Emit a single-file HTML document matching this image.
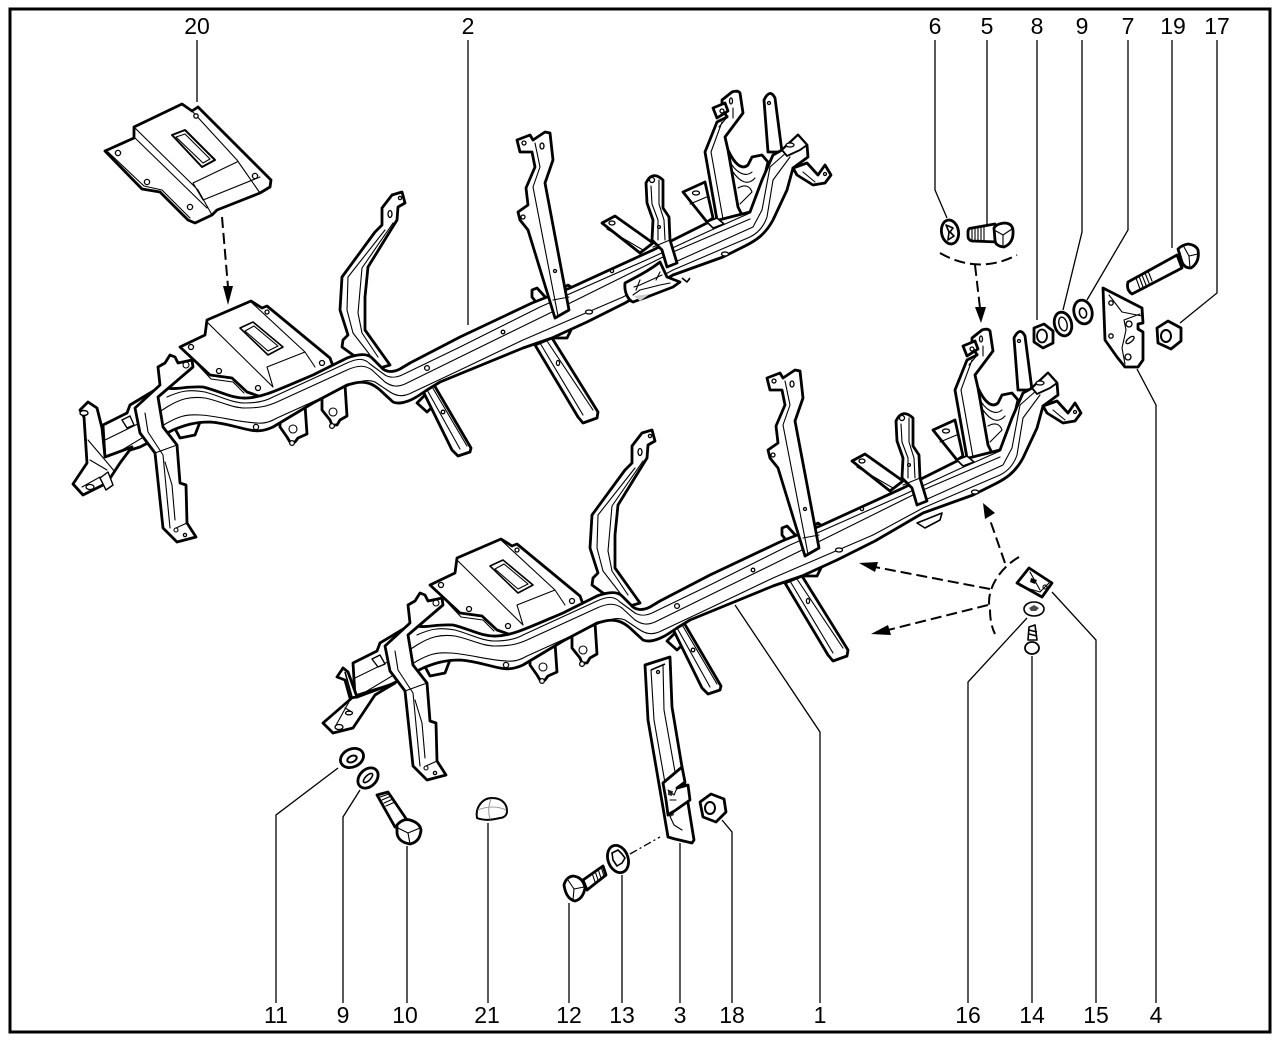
<!DOCTYPE html>
<html><head><meta charset="utf-8"><title>Diagram</title>
<style>
html,body{margin:0;padding:0;background:#fff}
svg{display:block}
text{font-family:"Liberation Sans",Arial,sans-serif;font-size:23px;fill:#000;text-anchor:middle}
.o{fill:#fff;stroke:#000;stroke-width:2.8;stroke-linejoin:round;stroke-linecap:round}
.i{fill:none;stroke:#000;stroke-width:1.1;stroke-linejoin:round;stroke-linecap:round}
.l{fill:none;stroke:#000;stroke-width:1.3}
.d{fill:none;stroke:#000;stroke-width:2;stroke-dasharray:11 5}
.h{fill:#fff;stroke:#000;stroke-width:1.3}
.m{fill:none;stroke:#000;stroke-width:1.6;stroke-linejoin:round}
</style></head><body>
<svg width="1280" height="1041" viewBox="0 0 1280 1041" xmlns="http://www.w3.org/2000/svg">
<rect width="1280" height="1041" fill="#fff"/>
<rect x="10" y="9" width="1260" height="1023" fill="none" stroke="#000" stroke-width="3"/>

<defs>
<g id="frame">
  <!-- far right clutter -->
  <path class="o" d="M728 150C735 165 742 170 748 165L752 157L762 155L768 162L756 212L738 215Z"/>
  <path class="i" d="M729 160C735 172 745 178 752 172M733 172C740 182 748 186 755 178M738 188C745 184 750 186 752 192M740 204L752 192"/>
  <path class="o" d="M764 100Q770 88 775 98L782 152L768 152Z"/>
  <circle class="h" cx="769" cy="103" r="1.5"/>
  <!-- big right bracket -->
  <path class="o" d="M722 100L732 92Q738 90 740 93L743 113L725 137L728 150L738 207L742 215L723 223L717 220L705 152L717 122L727 117L722 108Z"/>
  <path class="i" d="M722 122L711 152L723 219M733 108L733 118M728 116L719 127"/>
  <ellipse class="h" cx="731" cy="101" rx="1.5" ry="3"/>
  <path class="o" d="M713 108L725 103L728 111L717 118Z"/>
  <circle class="h" cx="722" cy="111" r="2"/>
  <!-- tab -->
  <path class="o" d="M683 192L705 182L713 218L707 222Z"/>
  <path class="i" d="M690 204L709 196"/>
  <ellipse class="h" cx="696" cy="193" rx="3.5" ry="2"/>
  <!-- strap -->
  <path class="o" d="M602 223L615 216L653 243L640 253Z"/>
  <path class="i" d="M607 229L643 250"/>
  <ellipse class="h" cx="612" cy="223" rx="3" ry="2"/>
  <!-- hoop -->
  <path class="o" d="M402 192L405 203L398 207L397 220L368 267L365 297L365 330L390 365L380 368L353 355L342 347L343 340L348 335L340 310L342 277L375 232L382 225L382 208L392 195Z"/>
  <path class="i" d="M393 223L362 268L358 313L362 333L378 357M385 230L348 277L347 310L353 333L370 355"/>
  <ellipse class="h" cx="390" cy="214" rx="2" ry="3.5"/>
  <circle class="h" cx="400" cy="198" r="1.6"/>
  <!-- center bracket foot rear -->
  <path class="o" d="M568 285L575 290L565 298L560 290Z"/>
  <path class="o" d="M532 290L537 288L548 300L540 307L532 297Z"/>
  <!-- plate -->
  <path class="o" d="M180 347L205 335L207 320L251 301L262 308L267 306L330 358L340 385L270 400L247 392L232 378L210 375Z"/>
  <path class="i" d="M207 322L273 387M251 302L305 352L315 367M267 367L305 352M267 367L273 387M184 350L211 379L233 382L244 393"/>
  <path class="o" d="M240 328L253 322L283 347L268 355Z" style="stroke-width:1.6"/>
  <path class="i" d="M245 331L254 326L278 346L268 351Z"/>
  <circle class="h" cx="191" cy="347" r="2.5"/><circle class="h" cx="219" cy="371" r="2.5"/>
  <circle class="h" cx="258" cy="388" r="2.5"/><circle class="h" cx="322" cy="363" r="2.5"/><circle class="h" cx="267" cy="312" r="2"/>
  <!-- under brackets -->
  <path class="o" d="M280 415L280 427L287 437L290 442L295 442L298 438L307 434L305 405L288 410Z"/>
  <circle class="h" cx="292" cy="443" r="2.4"/><circle class="i" cx="293" cy="429" r="4"/>
  <path class="o" d="M322 395L322 410L330 420L332 425L337 425L340 420L347 416L345 385L330 390Z"/>
  <circle class="h" cx="332" cy="426" r="2.4"/><circle class="i" cx="333" cy="412" r="4"/>
  <path class="o" d="M173 425L190 420L200 422L195 435L180 438Z"/>
  <!-- rear triangle & legs -->
  <path class="o" d="M552 338L567 338L573 326L555 330Z"/>
  <path class="o" d="M535 345L552 338L598 412L597 418L583 423L578 417Z"/>
  <path class="i" d="M540 343L583 415M547 341L593 410"/>
  <ellipse class="h" cx="558" cy="363" rx="1.6" ry="2.5"/>
  <path class="o" d="M417 403L430 390L440 400L427 412Z"/>
  <path class="o" d="M420 385L430 378L471 448L470 452L458 456L452 450Z"/>
  <path class="i" d="M426 388L460 449M431 385L467 446"/>
  <circle class="h" cx="443" cy="412" r="1.8"/>
  <!-- beam -->
  <path class="o" d="M103 425L127 413L130 405L160 387C175 391 183 386 203 387C220 391 232 399 247 398C263 397 273 392 313 375L347 358C358 354 367 353 372 358L381 367C385 372 392 373 400 369L410 363L460 337L532 303L570 288L653 250L707 223L750 212L762 180L773 155L782 150L798 135L807 145L808 157L793 168L787 190L773 220C765 235 755 241 745 246L723 257L673 275L625 303L587 322L552 338L523 348L440 382L427 390L418 396C410 401 400 405 393 402L380 390C372 383 365 381 355 383L347 385L313 403L273 427C262 432 255 431 250 430C235 427 225 423 210 422C195 422 185 425 173 430L140 447L105 458Z"/>
  <path class="i" d="M103 441L150 418L167 407C180 399 190 396 205 398C220 401 232 408 245 408C260 408 268 406 277 402L347 370C358 365 365 365 372 370L385 382C392 387 398 387 405 384L460 357L550 313L673 252L750 219M167 397C180 391 190 389 205 392C220 396 232 403 245 403C258 403 266 401 273 397L347 363C358 358 364 358 370 364L385 375C390 378 395 378 402 375L460 347L540 307L653 257L707 232L750 213M112 456L167 423C178 417 185 414 200 415C220 416 235 422 257 423C265 424 272 421 277 418L350 385C360 381 368 379 375 382L390 392C396 396 402 397 409 394L460 370L523 340L623 297L673 270L750 237C758 233 764 226 767 217L773 180L790 157M673 263L753 227L762 210L770 167L787 152"/>
  <circle class="h" cx="427" cy="368" r="2.4"/><circle class="h" cx="503" cy="332" r="1.8"/>
  <circle class="h" cx="612" cy="271" r="1.6"/><ellipse class="h" cx="589" cy="312" rx="3.5" ry="2"/><ellipse class="h" cx="725" cy="254" rx="3.5" ry="2"/>
  <circle class="h" cx="256" cy="427" r="2.6"/>
  <path class="o" d="M782 150L798 135L807 145L800 150L787 156Z" style="stroke-width:1.8"/>
  <ellipse class="h" cx="790" cy="145" rx="4" ry="2"/>
  <!-- end bracket -->
  <path class="o" d="M793 168L807 163L818 175L825 165L831 175L825 183L813 185L797 175Z"/>
  <path class="i" d="M803 172L815 182"/><circle class="h" cx="825" cy="174" r="1.5"/>
  <!-- center bracket -->
  <path class="o" d="M517 140L530 135L533 140L545 132L550 133L553 160L545 183L569 310L555 318L528 230L520 220L518 212L528 205L526 188L535 167L532 152L520 152Z"/>
  <path class="i" d="M535 143L540 167L533 187L558 316M553 300L569 297"/>
  <circle class="h" cx="524" cy="143" r="2"/><ellipse class="h" cx="542" cy="146" rx="2" ry="3"/>
  <circle class="h" cx="523" cy="217" r="2"/><circle class="h" cx="555" cy="271" r="1.5"/>
  <!-- small bracket -->
  <path class="o" d="M646 183Q652 170 663 180L663 208L669 217L670 240L677 263L667 267L662 250L652 240L653 220L647 203Z"/>
  <path class="i" d="M651 186L652 204L658 220L658 240M659 180L659 204L664 220L665 240M653 247L670 240"/>
  <circle class="h" cx="652" cy="180" r="2.5"/><circle class="h" cx="659" cy="227" r="1.4"/>
  <!-- right base of big bracket front -->
  <path class="o" d="M707 222L717 218L724 224L713 228Z" style="stroke-width:1.6"/>
  <!-- left down bracket -->
  <path class="o" d="M158 367L160 385L135 408L140 433L155 453L163 528L177 542L196 537L187 523L186 485L180 483L177 445L163 427L158 397L193 367L192 360L178 363L175 357L170 355L165 363Z"/>
  <path class="i" d="M145 413L148 432L163 455L170 528M176 528L187 523M155 453L177 445M165 462L172 485L175 520"/>
  <circle class="h" cx="185" cy="535" r="1.6"/><circle class="i" cx="176" cy="530" r="2"/>
  <circle class="i" cx="186" cy="365" r="3"/>
</g>
</defs>

<use href="#frame"/>
<use href="#frame" x="250" y="238"/>

<!-- upper only: left end -->
<path class="o" d="M80 410L88 402L97 408L102 428L105 457L132 447L120 463L107 483L83 495L73 484L87 463L84 417Z"/>
<path class="i" d="M88 440L105 460L115 472M90 460L107 470M82 487L100 477"/>
<path class="o" d="M100 478L108 472L113 485L106 490Z" style="stroke-width:1.4"/>
<ellipse class="h" cx="90" cy="487" rx="4" ry="2.5"/>
<ellipse class="o" cx="84" cy="413" rx="4" ry="2.5" style="stroke-width:1.4"/>
<path class="o" d="M122 420L130 416L134 425L127 428Z" style="stroke-width:1.4"/>
<!-- upper only: hump -->
<path class="o" d="M625 283C640 275 650 270 660 262L667 277L680 282L673 287L647 297L633 302C628 300 624 292 625 283Z"/>
<path class="i" d="M633 295L640 290L660 285L670 283M634 287L640 285L662 275M640 280L636 290M660 272L656 280"/>
<path d="M634 296L650 294L640 301Z" fill="#ccc"/>
<path class="m" d="M682 278L687 282L690 278"/>
<!-- lower only: left end -->
<path class="o" d="M343 668L357 697L395 683L375 695L353 728L333 733L323 723L353 697L348 678Z"/>
<path class="o" d="M337 677L343 668L348 672L357 697L350 698L345 680Z"/>
<path class="m" d="M345 672L352 697"/>
<path class="i" d="M350 700L335 727M345 708L352 712"/>
<ellipse class="h" cx="339" cy="727" rx="4" ry="2.5"/><ellipse class="h" cx="349" cy="713" rx="3.5" ry="1.8"/>
<path class="o" d="M372 659L380 655L385 664L378 667Z" style="stroke-width:1.4"/>
<!-- lower only small bits -->
<path class="o" d="M917 523L942 513L940 520L925 528Z" style="stroke-width:1.6"/>

<!-- leaders -->
<g class="l">
<path d="M197 40V102M468 40V325M935 40V190L947 218M987 40V225M1037 40V320M1082 40V232L1063 310M1128 40V230L1087 300M1172 40V248M1217 40V293L1180 323"/>
<path d="M276 1003V815L338 768M343 1003V817L360 790M407 1003V846M488 1003V823M569 1003V903M622 1003V875M680 1003V843M732 1003V832L722 820M820 1003V732L735 605M968 1003V682L1027 618M1032 1003V656M1096 1003V640L1052 592M1156 1003V405L1137 369"/>
<path d="M630 854L660 837" stroke-dasharray="8 3 2 3"/>
</g>

<!-- dashed arrows -->
<path class="d" d="M222 217L228 287"/><path d="M223 286L233 286L228 305Z"/>
<path class="d" d="M940 253Q978 275 1017 255" stroke-dasharray="10 4"/>
<path class="d" d="M975 265L980 308"/><path d="M975 307L986 307L981 323Z"/>
<path class="d" d="M1019 557C1000 568 985 590 990 610C990 620 992 628 995 634" stroke-dasharray="12 4"/>
<path class="d" d="M1005 563L990 520"/><path d="M983 503L995 513L985 519Z"/>
<path class="d" d="M990 589L875 567"/><path d="M859 563L878 562L875 572Z"/>
<path class="d" d="M988 605L888 630"/><path d="M871 634L888 625L891 635Z"/>

<!-- hardware top right -->
<ellipse class="o" cx="950" cy="232" rx="8.5" ry="12" transform="rotate(-10 950 232)"/>
<path class="m" d="M946 225L953 228L950 232L954 236L948 240L949 232Z"/>
<path class="o" d="M968 232Q968 228 972 228L995 224L998 242L972 241Q968 240 968 236Z"/>
<path class="i" d="M972 229V241M975 229V241M978 228V241M981 228V241M984 227V241"/>
<path class="o" d="M994 228Q996 224 1004 223Q1012 223 1013 230Q1014 243 1004 247Q995 246 995 240Z"/>
<path class="i" d="M996 231L1003 235L1012 229M1003 235V247"/>
<path class="o" d="M1034 328L1044 324L1053 331L1053 343L1043 348L1034 342Z"/>
<ellipse class="i" cx="1042" cy="336" rx="5" ry="6.5" style="stroke-width:1.8"/>
<ellipse class="o" cx="1063" cy="324" rx="8.5" ry="12" transform="rotate(-15 1063 324)"/>
<ellipse class="i" cx="1063" cy="324" rx="4" ry="7" transform="rotate(-15 1063 324)" style="stroke-width:1.4"/>
<ellipse class="o" cx="1083" cy="312" rx="9" ry="12" transform="rotate(-15 1083 312)"/>
<ellipse class="m" cx="1083" cy="313" rx="3.5" ry="5" transform="rotate(-15 1083 313)"/>
<path class="o" d="M1103 288L1142 308L1143 323L1138 324V329L1143 332L1143 360L1138 367L1125 367L1117 357L1105 340Z"/>
<path class="i" d="M1109 295L1122 312L1142 316M1124 320L1126 330L1122 348L1125 364M1124 320L1140 314"/>
<circle class="h" cx="1111" cy="303" r="2.2"/><circle class="h" cx="1111" cy="336" r="2.2"/>
<circle class="h" cx="1129" cy="324" r="3"/><circle class="h" cx="1128" cy="357" r="3"/>
<ellipse class="h" cx="1130" cy="340" rx="5" ry="2.2" transform="rotate(-40 1130 340)"/>
<path class="o" d="M1128 282L1177 255L1182 268L1132 294Q1126 290 1128 282Z"/>
<path class="i" d="M1136 278L1140 289M1139 276L1143 287M1142 275L1146 285M1145 273L1149 283M1148 271L1152 281"/>
<path class="o" d="M1178 249Q1182 245 1188 244Q1196 245 1198 250Q1200 262 1191 268Q1184 268 1182 262Z"/>
<path class="i" d="M1184 247L1189 256L1198 254M1189 256L1190 268"/>
<path class="o" d="M1157 328L1168 321L1181 328L1181 341L1171 349L1158 343Z"/>
<ellipse class="m" cx="1166" cy="336" rx="5" ry="6" style="stroke-width:2"/>

<!-- clip & screw -->
<path class="o" d="M1017 583L1029 568L1052 583L1042 597Z"/>
<path class="i" d="M1020 586L1040 592L1049 583M1030 572L1040 590"/>
<path d="M1031 578l6 2l-2 4l-5-2z" fill="#000"/><circle class="i" cx="1045" cy="587" r="2"/>
<ellipse class="o" cx="1034" cy="609" rx="10" ry="7" style="stroke-width:1.6"/>
<path d="M1029 608l5-3l5 3l-3 3h-5z" fill="#000" opacity=".7"/>
<path class="o" d="M1029 627L1035 625L1037 640L1028 640Z" style="stroke-width:1.6"/>
<path class="m" d="M1029 630L1037 632M1029 634L1037 636"/>
<ellipse class="o" cx="1032" cy="648" rx="7" ry="6" style="stroke-width:1.8"/>

<!-- hardware bottom -->
<ellipse class="o" cx="352" cy="758" rx="12" ry="9" transform="rotate(-25 352 758)"/>
<ellipse class="m" cx="352" cy="759" rx="5" ry="3" transform="rotate(-25 352 759)" style="stroke-width:2"/>
<ellipse class="o" cx="368" cy="778" rx="11.5" ry="8.5" transform="rotate(-45 368 778)"/>
<ellipse class="m" cx="368" cy="778" rx="6" ry="2.5" transform="rotate(-45 368 778)"/>
<path class="o" d="M377 795L388 792L407 820L395 827Z"/>
<path class="i" d="M380 797L389 794M382 800L391 796M384 803L393 799M386 806L395 802"/>
<path class="o" d="M397 825Q403 818 410 820Q420 823 421 830Q420 842 410 844Q398 842 397 833Z"/>
<path class="i" d="M398 828L408 833L420 828M408 833L410 844"/>
<path class="o" d="M477 818C475 808 482 798 492 798C502 798 507 804 507 811C507 816 503 818 500 818C492 820 484 821 477 818Z" style="stroke-width:2"/>
<path class="i" d="M491 799C488 806 488 812 490 819M478 810C487 806 498 806 506 810" style="stroke:#999"/>
<path class="o" d="M583 880L603 866L606 875L587 890Z"/>
<path class="i" d="M592 873L595 882M595 871L598 880M598 869L601 878M601 867L604 876"/>
<path class="o" d="M564 885Q566 877 573 876Q583 877 585 888Q583 899 575 901Q566 899 564 885Z"/>
<path class="i" d="M568 880L574 889L584 887M574 889L573 900"/>
<ellipse class="o" cx="618" cy="859" rx="10" ry="14" transform="rotate(-20 618 859)"/>
<path class="m" d="M612 853L618 850L622 854L625 858L622 863L617 866L613 860Z"/>
<path class="o" d="M700 802L711 794L724 799L726 812L716 822L703 817Z"/>
<ellipse class="m" cx="710" cy="808" rx="5" ry="6" style="stroke-width:2"/>
<!-- part 3 -->
<path class="o" d="M645 665L670 657L672 707L682 767L688 803L694 840L692 843L675 839L668 837L660 790L648 720Z"/>
<path class="i" d="M651 670L654 720L668 800M663 665L664 710L680 800"/>
<path class="m" d="M651 670L665 664"/>
<circle class="h" cx="658" cy="672" r="1.5"/>
<path class="o" d="M663 783L682 767L685 782L677 788L688 785L690 800L673 812L668 815L666 800Z"/>
<path class="i" d="M668 790L674 795L677 788M670 800L676 800M668 812L674 825L682 830"/>
<path d="M668 790l5 1l-1 5l-4-1zM668 813l5-3l1 5l-4 2z" fill="#000" opacity=".8"/>

<!-- labels -->
<text x="197" y="34">20</text><text x="468" y="34">2</text><text x="935" y="34">6</text><text x="987" y="34">5</text>
<text x="1037" y="34">8</text><text x="1082" y="34">9</text><text x="1128" y="34">7</text><text x="1173" y="34">19</text><text x="1217" y="34">17</text>
<text x="276" y="1023">11</text><text x="343" y="1023">9</text><text x="405" y="1023">10</text><text x="487" y="1023">21</text>
<text x="569" y="1023">12</text><text x="622" y="1023">13</text><text x="680" y="1023">3</text><text x="732" y="1023">18</text>
<text x="820" y="1023">1</text><text x="968" y="1023">16</text><text x="1032" y="1023">14</text><text x="1096" y="1023">15</text><text x="1156" y="1023">4</text>

<!-- plate 20 -->
<path class="o" d="M105 151L134 138L134 127L182 104L192 111L198 107L271 180L270 187L260 193L217 210L212 215L195 223L188 220L160 192L142 189Z"/>
<path class="i" d="M134 127L198 190L212 215M135 138L207 208M192 111L237 160L260 193M193 183L237 162M203 200L260 177M193 183L203 200M108 152L144 186L162 190L190 218"/>
<path class="o" d="M172 135L185 130L215 160L202 167Z" style="stroke-width:2"/>
<path class="i" d="M176 137L185 134L210 159L203 163Z"/>
<circle class="h" cx="118" cy="153" r="2.6"/><circle class="h" cx="147" cy="182" r="2.6"/><circle class="h" cx="190" cy="207" r="2.6"/><circle class="h" cx="255" cy="176" r="2.6"/><circle class="h" cx="196" cy="116" r="2.2"/>
</svg>
</body></html>
